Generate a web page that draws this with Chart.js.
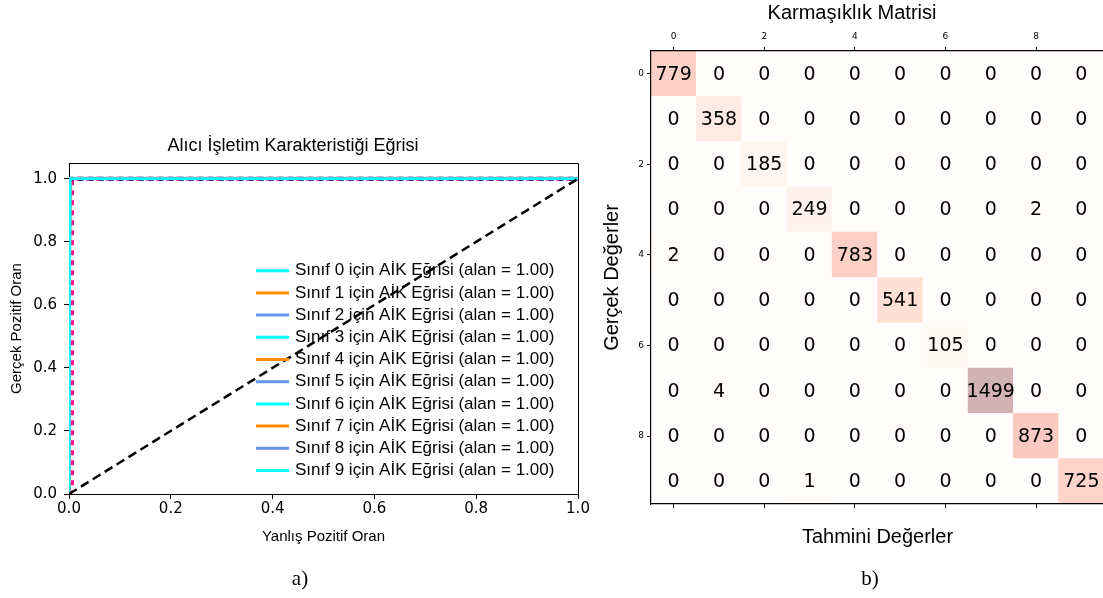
<!DOCTYPE html>
<html><head><meta charset="utf-8">
<script src="https://cdn.jsdelivr.net/npm/chart.js@4"></script>
<style>
html,body{margin:0;padding:0;background:#fff;width:1103px;height:598px;overflow:hidden;position:relative}
#c1{position:absolute;left:0;top:0}
#c2{position:absolute;left:600px;top:0}
.lab{position:absolute;top:578px;font-family:"Liberation Serif","Times New Roman",serif;font-size:21px;color:#000;transform:translate(-50%,-50%);white-space:nowrap}
</style></head><body>
<canvas id="c1" width="600" height="598"></canvas>
<canvas id="c2" width="510" height="598"></canvas>
<div class="lab" style="left:300px">a)</div>
<div class="lab" style="left:870px">b)</div>
<script>
// ---------- data: ROC ----------
const rocClasses = [0, 1, 2, 3, 4, 5, 6, 7, 8, 9];
const rocAuc = [1.00, 1.00, 1.00, 1.00, 1.00, 1.00, 1.00, 1.00, 1.00, 1.00];
const rocFpr = [0, 0.002, 1];
const rocTpr = [0, 1, 1];
const microFpr = [0, 0.006, 0.006, 1];
const microTpr = [0, 0.01, 1, 1];
const macroFpr = [0, 0, 1];
const macroTpr = [0, 1, 1];
const chanceFpr = [0, 1];
const chanceTpr = [0, 1];
const rocTicksX = [0, 0.2, 0.4, 0.6, 0.8, 1.0];
const rocTicksY = [0, 0.2, 0.4, 0.6, 0.8, 1.0];

// ---------- data: confusion matrix ----------
const cmLabels = [0, 1, 2, 3, 4, 5, 6, 7, 8, 9];
const cmRow0 = [779, 0, 0, 0, 0, 0, 0, 0, 0, 0];
const cmRow1 = [0, 358, 0, 0, 0, 0, 0, 0, 0, 0];
const cmRow2 = [0, 0, 185, 0, 0, 0, 0, 0, 0, 0];
const cmRow3 = [0, 0, 0, 249, 0, 0, 0, 0, 2, 0];
const cmRow4 = [2, 0, 0, 0, 783, 0, 0, 0, 0, 0];
const cmRow5 = [0, 0, 0, 0, 0, 541, 0, 0, 0, 0];
const cmRow6 = [0, 0, 0, 0, 0, 0, 105, 0, 0, 0];
const cmRow7 = [0, 4, 0, 0, 0, 0, 0, 1499, 0, 0];
const cmRow8 = [0, 0, 0, 0, 0, 0, 0, 0, 873, 0];
const cmRow9 = [0, 0, 0, 1, 0, 0, 0, 0, 0, 725];
const cmRows = [cmRow0, cmRow1, cmRow2, cmRow3, cmRow4, cmRow5, cmRow6, cmRow7, cmRow8, cmRow9];
const cmTicks = [0, 2, 4, 6, 8];

// ---------- styles ----------
const SANS = '"Liberation Sans", Arial, sans-serif';
const DEJ = '"DejaVu Sans", sans-serif';
Chart.defaults.font.family = DEJ;
Chart.defaults.color = '#000';
const classColors = ['#00ffff', '#ff8c00', '#6495ed'];

function pts(xs, ys) { return xs.map((x, i) => ({x: x, y: ys[i]})); }

const rocDatasets = [];
rocDatasets.push({label: 'chance', data: pts(chanceFpr, chanceTpr), borderColor: '#000', borderWidth: 2.5, borderDash: [9, 5], order: 0});
rocClasses.forEach((c, i) => {
  rocDatasets.push({
    label: 'Sınıf ' + c + ' için AİK Eğrisi (alan = ' + rocAuc[i].toFixed(2) + ')',
    cls: i,
    data: pts(rocFpr, rocTpr),
    borderColor: classColors[i % 3], borderWidth: 2.5, order: 10 - i
  });
});
rocDatasets.push({label: 'macro', data: pts(macroFpr, macroTpr), borderColor: '#000080', borderWidth: 4, borderDash: [5, 5], borderDashOffset: 5, order: 20});
rocDatasets.push({label: 'micro', data: pts(microFpr, microTpr), borderColor: '#ff1493', borderWidth: 4, borderDash: [5, 5], order: 21});
rocDatasets.forEach(d => { d.showLine = true; d.pointRadius = 0; d.fill = false; d.tension = 0; });

const frame = {
  id: 'frame',
  afterDatasetsDraw(chart) {
    const {ctx, chartArea: a} = chart;
    ctx.save();
    ctx.strokeStyle = '#000'; ctx.lineWidth = 1;
    ctx.beginPath();
    ctx.moveTo(a.left, a.top + 0.5); ctx.lineTo(a.right + 0.5, a.top + 0.5); ctx.lineTo(a.right + 0.5, a.bottom);
    ctx.stroke();
    ctx.restore();
  }
};
const rocLegend = {
  id: 'rocLegend',
  afterDraw(chart) {
    const {ctx, chartArea: a} = chart;
    const items = chart.data.datasets.filter(d => d.cls !== undefined).sort((p, q) => p.cls - q.cls);
    ctx.save();
    ctx.font = '17px ' + SANS;
    ctx.textBaseline = 'middle'; ctx.textAlign = 'left'; ctx.fillStyle = '#000';
    items.forEach((d, i) => {
      const y = a.top + 107.7 + i * 22.2;
      ctx.strokeStyle = d.borderColor; ctx.lineWidth = 3;
      ctx.beginPath(); ctx.moveTo(a.right - 322, y); ctx.lineTo(a.right - 289, y); ctx.stroke();
      ctx.fillText(d.label, a.right - 283, y);
    });
    ctx.restore();
  }
};

new Chart(document.getElementById('c1'), {
  type: 'scatter',
  data: {datasets: rocDatasets},
  options: {
    animation: false, responsive: false, devicePixelRatio: 1, events: [],
    layout: {padding: {left: 8, right: 22, top: 135.2, bottom: 44}},
    plugins: {
      legend: {display: false}, tooltip: {enabled: false},
      title: {display: true, text: 'Alıcı İşletim Karakteristiği Eğrisi', color: '#000',
        font: {family: SANS, size: 18, weight: 'normal'}, padding: {top: 0, bottom: 6.2}}
    },
    scales: {
      x: {
        type: 'linear', min: 0, max: 1,
        afterBuildTicks(s) { s.ticks = rocTicksX.map(v => ({value: v})); },
        afterFit(s) { s.height = 60; },
        ticks: {font: {size: 15}, padding: 1, callback: v => Number(v).toFixed(1), maxRotation: 0},
        grid: {drawOnChartArea: false, color: '#000', tickLength: 5},
        border: {display: true, color: '#000', width: 1},
        title: {display: true, text: 'Yanlış Pozitif Oran', color: '#000', font: {family: SANS, size: 15}, padding: {top: 0, bottom: 8}}
      },
      y: {
        type: 'linear', min: 0, max: 1.05,
        afterBuildTicks(s) { s.ticks = rocTicksY.map(v => ({value: v})); },
        afterFit(s) { s.width = 61; },
        ticks: {font: {size: 15}, padding: 7, callback: v => Number(v).toFixed(1)},
        grid: {drawOnChartArea: false, color: '#000', tickLength: 5},
        border: {display: true, color: '#000', width: 1},
        title: {display: true, text: 'Gerçek Pozitif Oran', color: '#000', font: {family: SANS, size: 15}, padding: {top: 0, bottom: 0}}
      }
    }
  },
  plugins: [frame, rocLegend]
});

// ---------- confusion matrix ----------
const redsStops = [[255,245,240],[254,224,210],[252,187,161],[252,146,114],[251,106,74],[239,59,44],[203,24,29],[165,15,21],[103,0,13]];
const cmMax = Math.max(...cmRows.map(r => Math.max(...r)));
function cellColor(v) {
  const t = Math.max(0, Math.min(1, v / cmMax)) * (redsStops.length - 1);
  const i = Math.min(redsStops.length - 2, Math.floor(t)), f = t - i;
  const c = redsStops[i].map((a, k) => a + (redsStops[i + 1][k] - a) * f);
  const m = c.map(a => Math.round(255 * 0.7 + a * 0.3));
  return 'rgb(' + m[0] + ',' + m[1] + ',' + m[2] + ')';
}
const cells = [];
cmRows.forEach((row, r) => row.forEach((v, c) => cells.push({x: cmLabels[c], y: [cmLabels[r] - 0.5, cmLabels[r] + 0.5], v: v})));

const cellText = {
  id: 'cellText',
  afterDatasetsDraw(chart) {
    const {ctx, scales} = chart;
    ctx.save();
    ctx.font = '19px ' + DEJ;
    ctx.textAlign = 'center'; ctx.textBaseline = 'middle'; ctx.fillStyle = '#000';
    cmRows.forEach((row, r) => row.forEach((v, c) => {
      ctx.fillText(String(v), scales.x.getPixelForValue(cmLabels[c]), scales.y.getPixelForValue(cmLabels[r]) + 1);
    }));
    ctx.restore();
  }
};
const tickSet = s => { s.ticks = cmTicks.map(v => ({value: v})); };
const cmBorder = {display: true, color: '#000', width: 1.2, z: 1};

new Chart(document.getElementById('c2'), {
  type: 'bar',
  data: {datasets: [{
    data: cells, backgroundColor: ctx => cellColor(ctx.raw.v), borderWidth: 0,
    grouped: false, barPercentage: 1, categoryPercentage: 1, xAxisID: 'x', yAxisID: 'y'
  }]},
  options: {
    animation: false, responsive: false, devicePixelRatio: 1, events: [],
    layout: {padding: {left: 0, right: 6, top: 1, bottom: 34}},
    plugins: {
      legend: {display: false}, tooltip: {enabled: false},
      title: {display: true, text: 'Karmaşıklık Matrisi', color: '#000',
        font: {family: SANS, size: 20, weight: 'normal'}, padding: {top: 0, bottom: 0}}
    },
    scales: {
      x: {
        type: 'linear', position: 'bottom', min: -0.5, max: 9.5, offset: false,
        afterBuildTicks: tickSet, afterFit(s) { s.height = 60; },
        ticks: {callback: () => '', autoSkip: false},
        grid: {drawOnChartArea: false, color: '#000', tickLength: 4, offset: false},
        border: cmBorder,
        title: {display: true, text: 'Tahmini Değerler', color: '#000', font: {family: SANS, size: 20}, padding: {top: 0, bottom: 15}}
      },
      xTop: {
        type: 'linear', position: 'top', min: -0.5, max: 9.5, offset: false,
        afterBuildTicks: tickSet, afterFit(s) { s.height = 26; },
        ticks: {font: {size: 9}, padding: 4.6, autoSkip: false, callback: v => String(v), maxRotation: 0},
        grid: {drawOnChartArea: false, color: '#000', tickLength: 4, offset: false},
        border: cmBorder
      },
      y: {
        type: 'linear', reverse: true, min: -0.5, max: 9.5, offset: false,
        afterBuildTicks: tickSet, afterFit(s) { s.width = 51; },
        ticks: {font: {size: 9}, padding: 3, autoSkip: false, callback: v => String(v)},
        grid: {drawOnChartArea: false, color: '#000', tickLength: 4, offset: false},
        border: cmBorder,
        title: {display: true, text: 'Gerçek Değerler', color: '#000', font: {family: SANS, size: 20}, padding: {top: 0, bottom: 0}}
      }
    }
  },
  plugins: [cellText]
});
</script>
</body></html>
